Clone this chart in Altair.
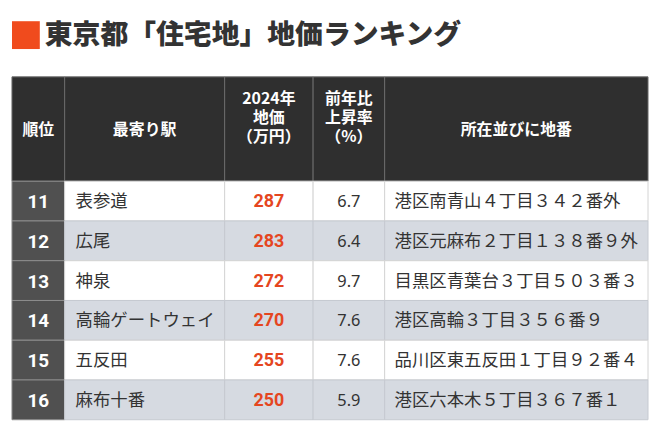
import altair as alt
import pandas as pd

# ---- data ----
title_text = "東京都「住宅地」地価ランキング"
headers = [["順位"], ["最寄り駅"], ["2024年", "地価", "（万円）"], ["前年比", "上昇率", "（%）"], ["所在並びに地番"]]
ranks = [11, 12, 13, 14, 15, 16]
stations = ["表参道", "広尾", "神泉", "高輪ゲートウェイ", "五反田", "麻布十番"]
prices = [287, 283, 272, 270, 255, 250]
rates = [6.7, 6.4, 9.7, 7.6, 7.6, 5.9]
addresses = [
    "港区南青山４丁目３４２番外",
    "港区元麻布２丁目１３８番９外",
    "目黒区青葉台３丁目５０３番３",
    "港区高輪３丁目３５６番９",
    "品川区東五反田１丁目９２番４",
    "港区六本木５丁目３６７番１",
]

# ---- layout (page pixels) ----
M = 8
W, H = 646, 415
edges = [12, 65, 226, 315, 387, 652]
head_top, head_bot, row_h = 76, 181, 40
FONT = "Noto Sans CJK JP"

HEAD_BG = "#2f2f2f"
RANK_BG = "#505050"
GRAY_ROW = "#d6dae1"
ORANGE = "#e5461f"
TXT = "#333333"

def px(v):
    return v - M

# cells
cells = []
for j in range(5):
    cells.append(dict(x=px(edges[j]), x2=px(edges[j + 1]), y=px(head_top), y2=px(head_bot),
                      fill=HEAD_BG, stroke="#6a6a6a"))
for i in range(len(ranks)):
    top = head_bot + i * row_h
    bg = "#ffffff" if i % 2 == 0 else GRAY_ROW
    for j in range(5):
        if j == 0:
            fill, stroke = RANK_BG, "#8c8c8c"
        else:
            fill, stroke = bg, "#d4d4d4" if i % 2 == 0 else "#c6cad1"
        cells.append(dict(x=px(edges[j]), x2=px(edges[j + 1]), y=px(top), y2=px(top + row_h),
                          fill=fill, stroke=stroke))
cells_df = pd.DataFrame(cells)

xs = alt.Scale(domain=[0, W], nice=False, zero=False)
ys = alt.Scale(domain=[0, H], nice=False, zero=False, reverse=True)

def X(f="x"):
    return alt.X(f"{f}:Q", scale=xs, axis=None)

def Y(f="y"):
    return alt.Y(f"{f}:Q", scale=ys, axis=None)

rect_layer = alt.Chart(cells_df).mark_rect(strokeWidth=1).encode(
    x=X(), x2="x2:Q", y=Y(), y2="y2:Q",
    fill=alt.Fill("fill:N", scale=None),
    stroke=alt.Stroke("stroke:N", scale=None),
)

# title
sq_df = pd.DataFrame([dict(x=px(12), x2=px(40), y=px(20), y2=px(48))])
title_sq = alt.Chart(sq_df).mark_rect(color="#f04b1d").encode(x=X(), x2="x2:Q", y=Y(), y2="y2:Q")
title_df = pd.DataFrame([dict(x=px(45), y=px(35), t=title_text)])
title_txt = alt.Chart(title_df).mark_text(
    align="left", baseline="middle", font=FONT, fontSize=28, fontWeight=900, color=TXT
).encode(x=X(), y=Y(), text="t:N")

# header text (one row per line)
centers = [(edges[j] + edges[j + 1]) / 2 for j in range(5)]
head_rows = []
for j, lines in enumerate(headers):
    if len(lines) == 1:
        head_rows.append(dict(x=px(centers[j]), y=px(129), t=lines[0]))
    else:
        for k, ln in enumerate(lines):
            head_rows.append(dict(x=px(centers[j]), y=px(98 + 19.5 * k), t=ln))
head_df = pd.DataFrame(head_rows)
head_txt = alt.Chart(head_df).mark_text(
    align="center", baseline="middle", font=FONT, fontSize=16, fontWeight="bold", color="#ffffff"
).encode(x=X(), y=Y(), text="t:N")

def rowy(i):
    return px(head_bot + i * row_h + row_h / 2 + 1)

rank_df = pd.DataFrame([dict(x=px(centers[0]), y=rowy(i), t=str(r)) for i, r in enumerate(ranks)])
rank_txt = alt.Chart(rank_df).mark_text(
    align="center", baseline="middle", font="Roboto", fontSize=19, fontWeight="bold", color="#ffffff"
).encode(x=X(), y=Y(), text="t:N")

st_df = pd.DataFrame([dict(x=px(76), y=rowy(i), t=s) for i, s in enumerate(stations)])
st_txt = alt.Chart(st_df).mark_text(
    align="left", baseline="middle", font=FONT, fontSize=17.5, color=TXT
).encode(x=X(), y=Y(), text="t:N")

pr_df = pd.DataFrame([dict(x=px(centers[2]), y=rowy(i), t=str(p)) for i, p in enumerate(prices)])
pr_txt = alt.Chart(pr_df).mark_text(
    align="center", baseline="middle", font="Roboto", fontSize=18, fontWeight="bold", color=ORANGE
).encode(x=X(), y=Y(), text="t:N")

rt_df = pd.DataFrame([dict(x=px(centers[3]), y=rowy(i), t=f"{r:.1f}") for i, r in enumerate(rates)])
rt_txt = alt.Chart(rt_df).mark_text(
    align="center", baseline="middle", font="Noto Sans", fontSize=16.5, color=TXT
).encode(x=X(), y=Y(), text="t:N")

ad_df = pd.DataFrame([dict(x=px(397), y=rowy(i), t=a) for i, a in enumerate(addresses)])
ad_txt = alt.Chart(ad_df).mark_text(
    align="left", baseline="middle", font=FONT, fontSize=17.5, color=TXT
).encode(x=X(), y=Y(), text="t:N")

chart = alt.layer(
    rect_layer, title_sq, title_txt, head_txt, rank_txt, st_txt, pr_txt, rt_txt, ad_txt
).properties(
    width=W, height=H, padding=0, background="#ffffff"
).configure_view(stroke=None)

chart.save("out.html", embed_options={"renderer": "svg", "actions": False})
